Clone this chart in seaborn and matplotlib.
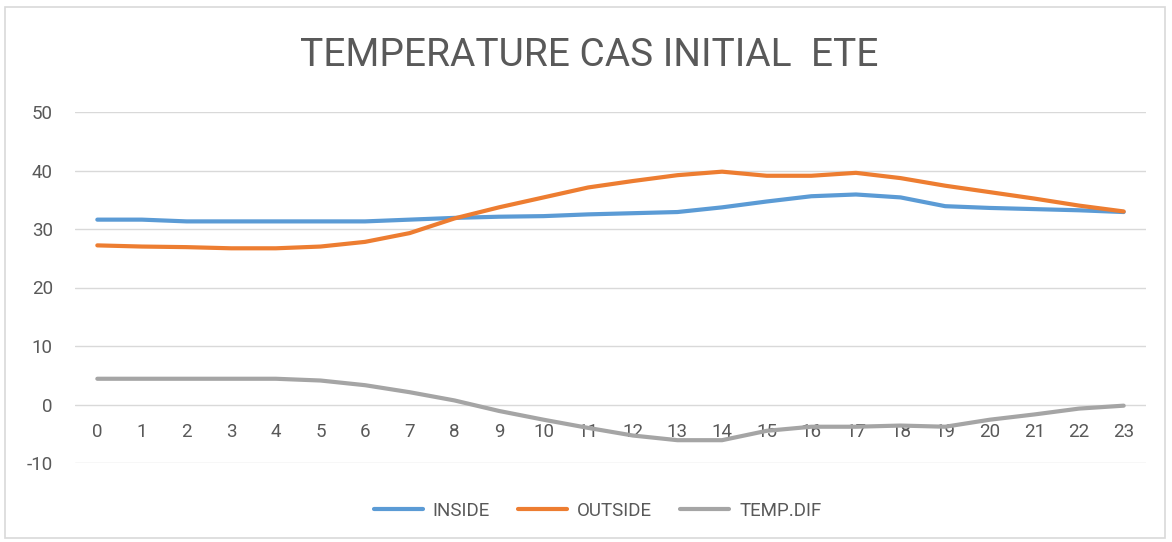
import matplotlib
matplotlib.use("Agg")
import matplotlib.pyplot as plt
import matplotlib.patches as mpatches
import seaborn as sns
import pandas as pd

hours = list(range(24))
inside = [31.6, 31.6, 31.3, 31.3, 31.3, 31.3, 31.3, 31.6, 31.9, 32.1, 32.2, 32.5,
          32.7, 32.9, 33.7, 34.7, 35.6, 35.9, 35.4, 33.9, 33.6, 33.4, 33.2, 32.9]
outside = [27.2, 27.0, 26.9, 26.7, 26.7, 27.0, 27.8, 29.3, 31.8, 33.7, 35.4, 37.1,
           38.2, 39.2, 39.8, 39.1, 39.1, 39.6, 38.7, 37.4, 36.3, 35.2, 34.0, 33.0]
temp_dif = [4.4, 4.4, 4.4, 4.4, 4.4, 4.1, 3.3, 2.1, 0.7, -1.1, -2.6, -4.0,
            -5.3, -6.1, -6.1, -4.5, -3.8, -3.8, -3.6, -3.8, -2.6, -1.7, -0.7, -0.2]
series_names = ["INSIDE", "OUTSIDE", "TEMP.DIF"]
series_colors = ["#5B9BD5", "#ED7D31", "#A5A5A5"]
title = "TEMPERATURE CAS INITIAL  ETE"

df = pd.DataFrame({"hour": hours, "INSIDE": inside, "OUTSIDE": outside, "TEMP.DIF": temp_dif})
long_df = df.melt(id_vars="hour", var_name="series", value_name="temp")

sns.set_theme(style="white")
plt.rcParams["font.family"] = ["Roboto", "DejaVu Sans"]
plt.rcParams["axes.unicode_minus"] = False

W, H = 1172, 542
fig = plt.figure(figsize=(W / 100, H / 100), dpi=100)
fig.patch.set_facecolor("white")

# chart frame
fig.patches.append(mpatches.Rectangle((5 / W, 4 / H), 1160 / W, 531 / H,
                                      transform=fig.transFigure, fill=False,
                                      edgecolor="#D9D9D9", linewidth=1.2))

left, right, top, bottom = 75, 1146, 112, 463
ax = fig.add_axes([left / W, 1 - bottom / H, (right - left) / W, (bottom - top) / H])

sns.lineplot(data=long_df, x="hour", y="temp", hue="series", hue_order=series_names,
             palette=series_colors, linewidth=3.0, ax=ax, legend=False,
             solid_capstyle="round")

ax.set_xlim(-0.5, 23.5)
ax.set_ylim(-10, 50)
ax.set_yticks(range(-10, 51, 10))
ax.yaxis.grid(True, color="#D9D9D9", linewidth=1.0)
ax.xaxis.grid(False)
ax.set_axisbelow(True)
for s in ax.spines.values():
    s.set_visible(False)

ax.set_xlabel("")
ax.set_ylabel("")
ax.tick_params(axis="y", length=0, pad=16, labelsize=13.5, labelcolor="#595959")

# category axis crosses at zero
ax.spines["bottom"].set_position(("data", 0))
ax.set_xticks(hours)
ax.set_xticklabels([str(h) for h in hours])
ax.tick_params(axis="x", length=0, pad=13, labelsize=13.5, labelcolor="#595959")

fig.text(0.503, 1 - 56 / H, title, ha="center", va="center",
         fontsize=28, color="#595959")

handles = [plt.Line2D([0], [0], color=c, linewidth=3.0, solid_capstyle="round")
           for c in series_colors]
leg = fig.legend(handles, series_names, loc="center", ncol=3,
                 bbox_to_anchor=(0.510, 1 - 511 / H), frameon=False,
                 fontsize=13.5, handlelength=2.6, columnspacing=1.5, handletextpad=0.55)
for t in leg.get_texts():
    t.set_color("#595959")

fig.savefig("out.png", dpi=100)
